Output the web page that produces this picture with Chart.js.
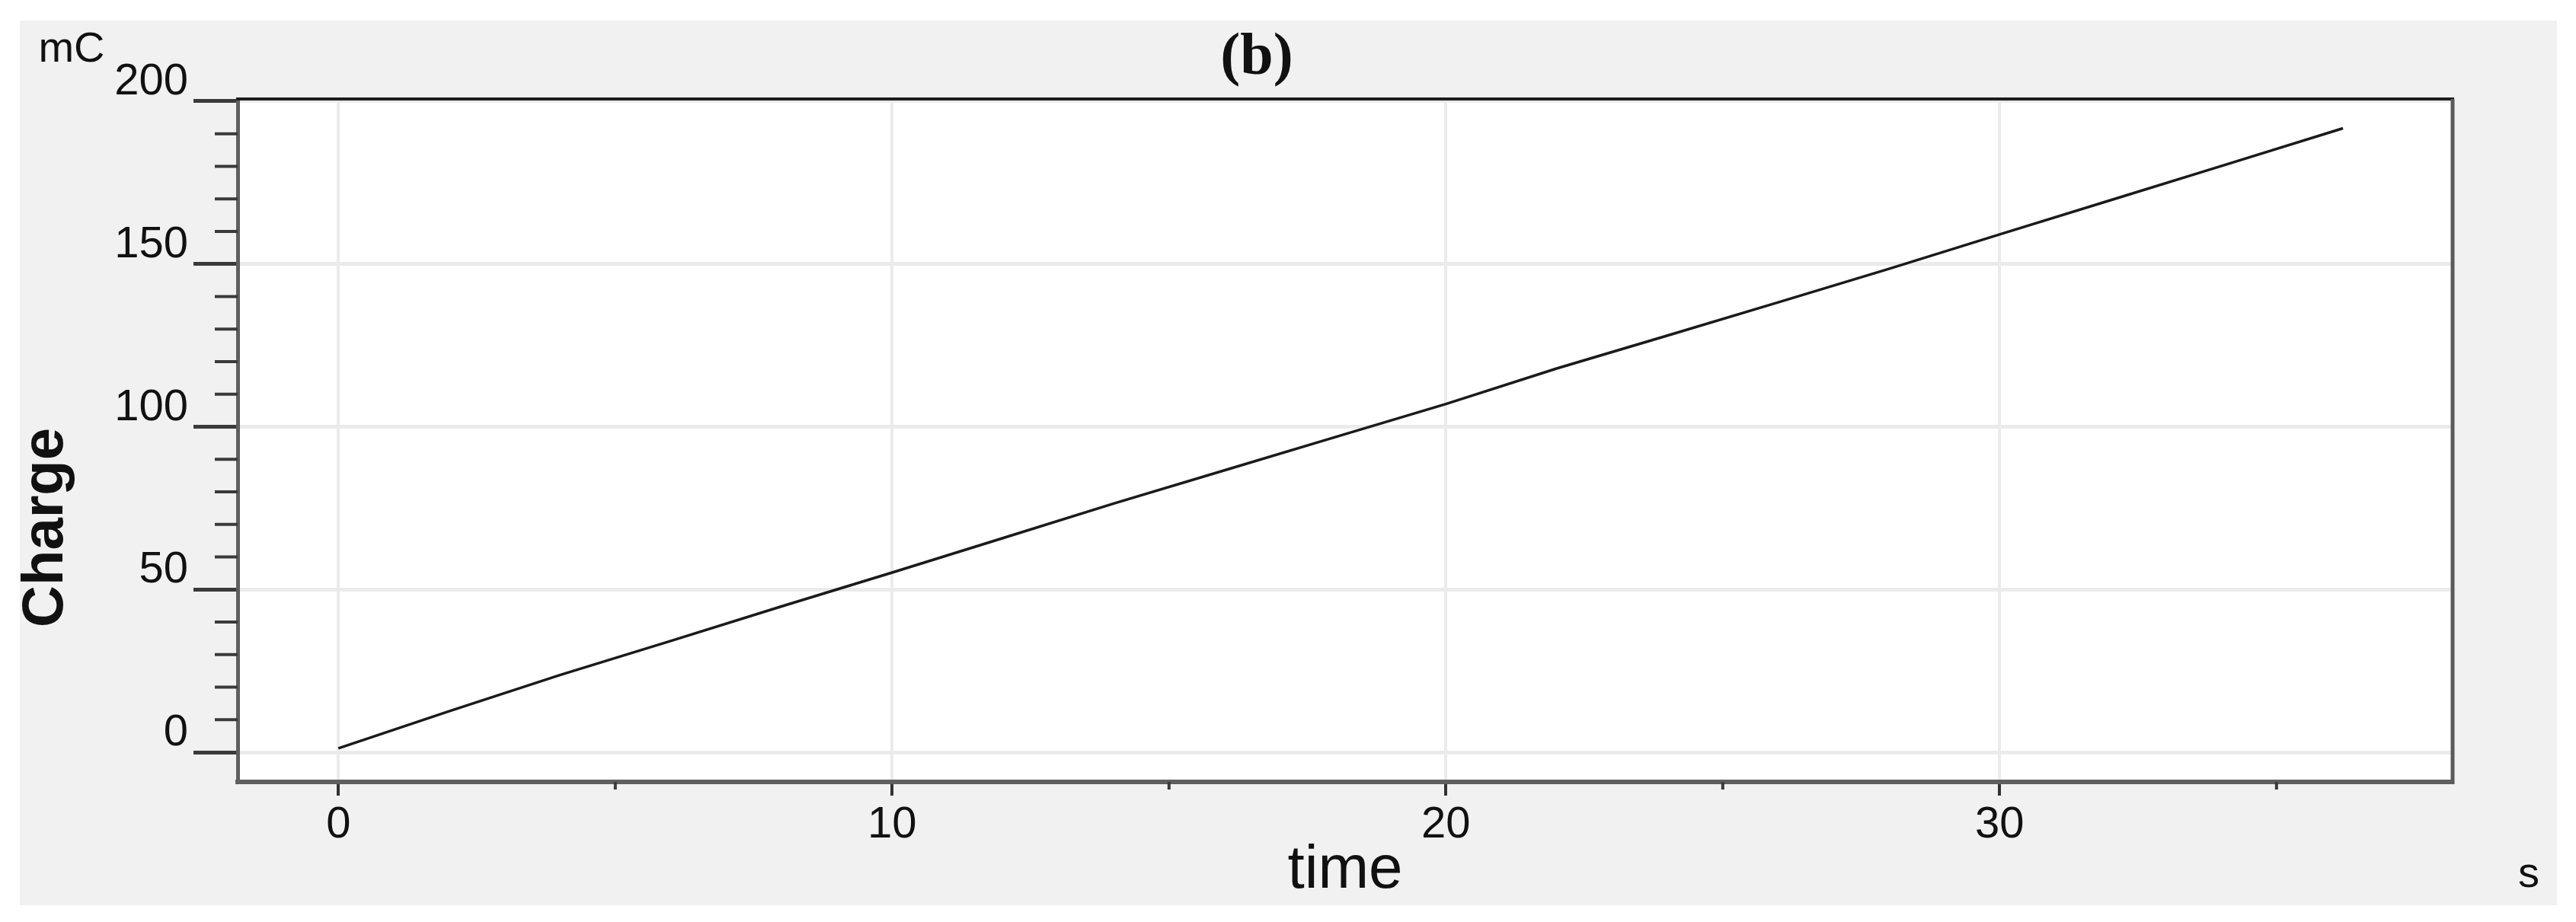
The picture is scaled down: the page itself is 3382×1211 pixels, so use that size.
<!DOCTYPE html>
<html>
<head>
<meta charset="utf-8">
<script src="https://cdn.jsdelivr.net/npm/chart.js@4.4.1/dist/chart.umd.min.js"></script>
<style>
  html, body { margin: 0; padding: 0; background: #fff; }
  #wrap { position: relative; width: 3382px; height: 1211px; }
  #panel { position: absolute; left: 26px; top: 27px; width: 3331px; height: 1162px; background: #f1f1f1; }
  canvas { position: absolute; left: 0; top: 0; }
</style>
</head>
<body>
<div id="wrap">
  <div id="panel"></div>
  <canvas id="chart" width="3382" height="1211"></canvas>
</div>
<script>
// values (time in s, charge in mC)
const timeS = [0, 2, 4, 6, 8, 10, 12, 14, 16, 18, 20, 22, 24, 26, 28, 30, 32, 34, 36.2];
const chargeMC = [1.2, 12.6, 23.7, 34.2, 44.8, 55.2, 65.8, 76.4, 86.6, 96.8, 107.0, 117.9, 128.0, 138.2, 148.5, 159.1, 169.6, 180.1, 191.7];

const xTicks = [0, 10, 20, 30];
const xMinorTicks = [5, 15, 25, 35];
const yTicks = [0, 50, 100, 150, 200];
const yMinorTicks = [10, 20, 30, 40, 60, 70, 80, 90, 110, 120, 130, 140, 160, 170, 180, 190];

const SANS = "'Liberation Sans Narrow', 'Liberation Sans', Arial, sans-serif";

// white plot area, top/right frame, minor ticks and loose labels
const frame = {
  id: "frame",
  beforeDraw(chart) {
    const { ctx, chartArea: a } = chart;
    ctx.save();
    ctx.fillStyle = "#fff";
    ctx.fillRect(a.left, a.top, a.right - a.left, a.bottom - a.top);
    ctx.restore();
  },
  afterDraw(chart) {
    const { ctx, chartArea: a, scales } = chart;
    ctx.save();
    ctx.strokeStyle = "#1e1e1e";
    ctx.lineWidth = 4;
    ctx.beginPath();
    ctx.moveTo(a.left - 2, a.top);
    ctx.lineTo(a.right + 2, a.top);
    ctx.stroke();
    ctx.strokeStyle = "#5a5a5a";
    ctx.lineWidth = 5;
    ctx.beginPath();
    ctx.moveTo(a.right, a.top);
    ctx.lineTo(a.right, a.bottom + 3);
    ctx.stroke();

    ctx.strokeStyle = "#3a3a3a";
    ctx.lineWidth = 4;
    yMinorTicks.forEach((v) => {
      const y = scales.y.getPixelForValue(v);
      ctx.beginPath();
      ctx.moveTo(a.left - 30, y);
      ctx.lineTo(a.left, y);
      ctx.stroke();
    });
    xMinorTicks.forEach((v) => {
      const x = scales.x.getPixelForValue(v);
      ctx.beginPath();
      ctx.moveTo(x, a.bottom);
      ctx.lineTo(x, a.bottom + 10);
      ctx.stroke();
    });

    ctx.fillStyle = "#111";
    ctx.textAlign = "center";
    ctx.textBaseline = "middle";
    ctx.font = "bold 78px 'Liberation Serif', 'Times New Roman', serif";
    ctx.fillText("(b)", 1650, 77);
    ctx.font = "56px " + SANS;
    ctx.fillText("mC", 94, 66);
    ctx.fillText("s", 3320, 1150);
    ctx.translate(61, 693);
    ctx.rotate(-Math.PI / 2);
    ctx.font = "bold 76px 'Liberation Sans', Arial, sans-serif";
    ctx.fillText("Charge", 0, 0);
    ctx.restore();
  },
};

const ctx = document.getElementById("chart").getContext("2d");
new Chart(ctx, {
  type: "line",
  data: {
    datasets: [
      {
        label: "Charge",
        data: timeS.map((t, i) => ({ x: t, y: chargeMC[i] })),
        borderColor: "#1a1a1a",
        borderWidth: 3.5,
        pointRadius: 0,
        tension: 0,
        fill: false,
      },
    ],
  },
  options: {
    responsive: false,
    animation: false,
    layout: { padding: { left: 0, right: 162, top: 130, bottom: 0 } },
    plugins: {
      legend: { display: false },
      tooltip: { enabled: false },
    },
    scales: {
      x: {
        type: "linear",
        min: -1.82,
        max: 38.18,
        afterBuildTicks: (s) => {
          s.ticks = xTicks.map((v) => ({ value: v }));
        },
        afterFit: (s) => {
          s.height = 184;
        },
        grid: { color: "#ebebeb", lineWidth: 4, tickLength: 18, tickColor: "#333", tickWidth: 4 },
        border: { color: "#5f5f5f", width: 6 },
        ticks: { font: { family: SANS, size: 58 }, color: "#111", padding: 4, maxRotation: 0 },
        title: {
          display: true,
          text: "time",
          font: { family: SANS, size: 80 },
          color: "#111",
          padding: { top: 0, bottom: 19 },
        },
      },
      y: {
        min: -9.12,
        max: 200.7,
        afterBuildTicks: (s) => {
          s.ticks = yTicks.map((v) => ({ value: v }));
        },
        afterFit: (s) => {
          s.width = 312;
        },
        grid: { color: "#ebebeb", lineWidth: 5, tickLength: 58, tickColor: "#3a3a3a", tickWidth: 5 },
        border: { color: "#5f5f5f", width: 5 },
        ticks: { font: { family: SANS, size: 58 }, color: "#111", padding: 7, labelOffset: -25 },
      },
    },
  },
  plugins: [frame],
});
</script>
</body>
</html>
